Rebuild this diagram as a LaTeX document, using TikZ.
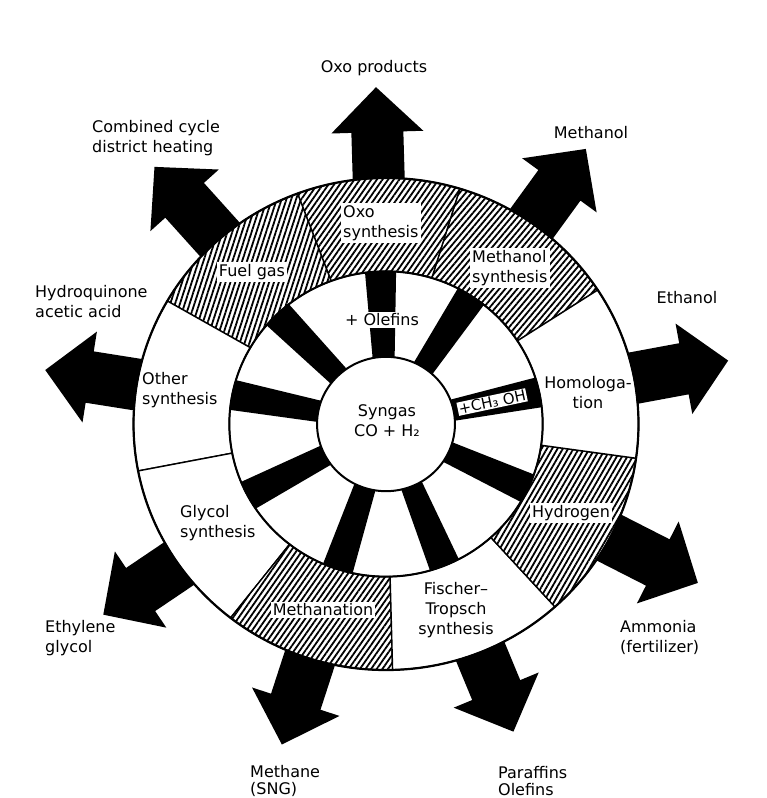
\documentclass[tikz,border=0pt]{standalone}
\usepackage{fontspec}
\setmainfont{DejaVu Sans}
\usetikzlibrary{patterns.meta}
\newcommand{\blockarrow}[2]{%
  \fill[black,rotate=#1] (200,-26) -- ({#2-45},-26) -- ({#2-45},-46) -- (#2,0) -- ({#2-45},46) -- ({#2-45},26) -- (200,26) -- cycle;}
\newcommand{\ringsector}[3]{%
  \path[sector line,preaction={fill=white},#3] (#1:249) arc[start angle=#1,end angle=#2,radius=249] -- (#2:154.5) arc[start angle=#2,end angle=#1,radius=154.5] -- cycle;}
\newcommand{\spokebar}[1]{%
  \fill[black,rotate=#1] (60,-10.5) -- (157,-15.5) -- (157,15.5) -- (60,10.5) -- cycle;}
\begin{document}
\begin{tikzpicture}[x=1pt,y=1pt,
  lbl/.style={font=\fontsize{16}{20}\selectfont, inner sep=0pt, align=center},
  lbll/.style={lbl, align=left, anchor=west},
  tag/.style={font=\fontsize{16}{20}\selectfont, fill=white, inner sep=2pt, align=left},
  sector line/.style={draw=black, line width=1.4pt},
  hatch/.style={pattern={Lines[angle=#1,distance=4.6pt,line width=1.8pt]}},
]
\useasboundingbox (0,0) rectangle (767,798);
\fill[white] (0,0) rectangle (767,798);
\coordinate (C) at (386,374);
% block arrows
\begin{scope}[shift={(C)}]
  \blockarrow{91.7}{337}
  \blockarrow{54}{340}
  \blockarrow{10.5}{348}
  \blockarrow{-27}{350}
  \blockarrow{-67.5}{333}
  \blockarrow{-108}{337}
  \blockarrow{-146}{341}
  \blockarrow{171}{345}
  \blockarrow{132}{346}
\end{scope}
% wheel
\begin{scope}[shift={(C)}, xscale=1.014, yscale=0.988]
  \spokebar{12}
  \spokebar{57}
  \spokebar{92}
  \spokebar{134}
  \spokebar{169}
  \spokebar{208}
  \spokebar{252}
  \spokebar{292}
  \spokebar{335}
  \ringsector{33}{73}{hatch=50}
  \ringsector{73}{110.5}{hatch=55}
  \ringsector{110.5}{150}{hatch=72}
  \ringsector{150}{191}{fill=white}
  \ringsector{191}{232}{fill=white}
  \ringsector{232}{271.5}{hatch=55}
  \ringsector{271.5}{312}{fill=white}
  \ringsector{312}{352}{hatch=60}
  \ringsector{352}{393}{fill=white}
  \draw[line width=2.2pt] (0,0) circle[radius=249];
  \draw[line width=2pt] (0,0) circle[radius=154.5];
  \node[fill=white, inner sep=1pt, rotate=12, font=\fontsize{15}{18}\selectfont] (ch3oh) at (12:107) {+CH₃ OH};
  \filldraw[fill=white, line width=2pt] (0,0) circle[radius=68];
\end{scope}
% outer labels
\node[lbl] (oxoprod) at (374,730) {Oxo products};
\node[lbll] (combined) at (92,660) {Combined cycle\\district heating};
\node[lbl] (methanolout) at (591,665) {Methanol};
\node[lbll] (hydroq) at (35,496) {Hydroquinone\\acetic acid};
\node[lbl] (ethanol) at (687,500) {Ethanol};
\node[lbll] (ethylene) at (45,160) {Ethylene\\glycol};
\node[lbll] (ammonia) at (620,161) {Ammonia\\(fertilizer)};
\node[lbll] (methane) at (250,17) {Methane\\[-3pt](SNG)};
\node[lbll] (paraffins) at (498,17) {Paraffins\\[-3pt]Olefins};
% ring labels
\node[tag, anchor=west] (oxosyn) at (341,575) {Oxo\\synthesis};
\node[tag] (fuel) at (252,526) {Fuel gas};
\node[tag, anchor=west] (methsyn) at (470,530) {Methanol\\synthesis};
\node[lbl] (homol) at (588,405) {Homologa-\\tion};
\node[tag] (hydrogen) at (571,285) {Hydrogen};
\node[lbl] (fischer) at (456,188) {Fischer–\\Tropsch\\synthesis};
\node[tag] (methanation) at (323,188) {Methanation};
\node[lbll] (glycol) at (180,275) {Glycol\\synthesis};
\node[lbll] (other) at (142,408) {Other\\synthesis};
\node[tag] (olefins) at (382,478) {+ Olefins};
\node[lbl] (syngas) at (387,377) {Syngas\\CO + H₂};
\end{tikzpicture}
\end{document}
